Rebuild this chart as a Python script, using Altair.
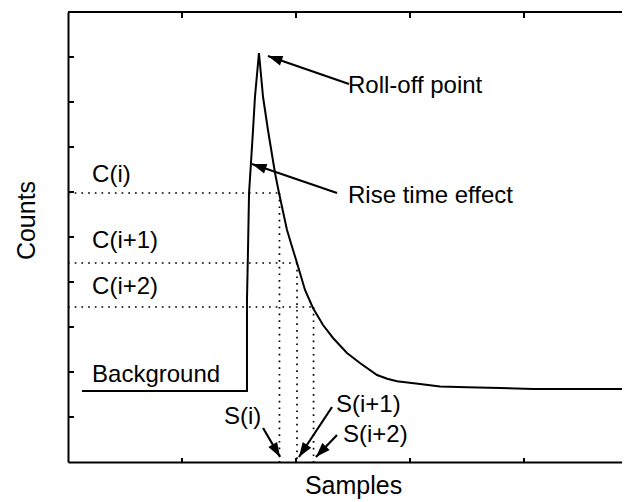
import math
import altair as alt
import pandas as pd

# ---------------- data ----------------
# plot scale: x in "sample" units, y in "count" units
curve_x = [0.123, 1.570, 1.570, 1.579, 1.588, 1.605, 1.623, 1.640, 1.675,
           1.711, 1.754, 1.816, 1.851, 1.921, 1.974, 2.009, 2.079, 2.149,
           2.237, 2.325, 2.447, 2.561, 2.711, 2.800, 2.886, 3.088, 3.263,
           3.500, 3.789, 4.079, 4.491, 4.930]
curve_y = [1.578, 1.578, 3.600, 4.711, 5.978, 6.644, 7.378, 8.111, 9.089,
           8.111, 7.378, 6.422, 5.978, 5.156, 4.711, 4.422, 3.822, 3.422,
           3.044, 2.756, 2.422, 2.200, 1.933, 1.850, 1.795, 1.733, 1.680,
           1.660, 1.644, 1.622, 1.622, 1.622]

sample_x = [1.855, 2.009, 2.154]      # S(i), S(i+1), S(i+2)
count_y = [5.978, 4.422, 3.444]       # C(i), C(i+1), C(i+2)

label_text = ["C(i)", "C(i+1)", "C(i+2)", "Background", "S(i)",
              "S(i+1)", "S(i+2)", "Roll-off point", "Rise time effect"]
label_x = [0.211, 0.211, 0.211, 0.211, 1.368, 2.351, 2.412, 2.456, 2.456]
label_y = [6.222, 4.756, 3.733, 1.778, 0.844, 1.111, 0.444, 8.200, 5.756]

arrow_tail_x = [2.465, 2.360, 1.711, 2.316, 2.360]
arrow_tail_y = [8.400, 5.978, 0.756, 1.222, 0.600]
arrow_tip_x = [1.754, 1.614, 1.860, 2.026, 2.175]
arrow_tip_y = [9.022, 6.622, 0.111, 0.111, 0.111]

x_ticks = [1, 2, 3, 4]
y_ticks = [1, 2, 3, 4, 5, 6, 7, 8, 9]

# ---------------- layout ----------------
W, H = 554, 450
PX_X, PX_Y = 114.0, 45.0
XMAX = W / PX_X
FONT = "Liberation Sans"

xs = alt.Scale(domain=[0, XMAX], nice=False, zero=False)
ys = alt.Scale(domain=[0, 10], nice=False, zero=False)

curve_df = pd.DataFrame({"x": curve_x, "y": curve_y, "i": range(len(curve_x))})
guide_df = pd.DataFrame({"sx": sample_x, "cy": count_y, "x0": [0.0] * 3, "y0": [0.0] * 3})
label_df = pd.DataFrame({"t": label_text, "x": label_x, "y": label_y})

angles = []
for tx, ty, hx, hy in zip(arrow_tail_x, arrow_tail_y, arrow_tip_x, arrow_tip_y):
    dx = (hx - tx) * PX_X
    dy = -(hy - ty) * PX_Y
    angles.append(math.degrees(math.atan2(dx, -dy)) % 360)
arrow_df = pd.DataFrame({"x": arrow_tail_x, "y": arrow_tail_y,
                         "x2": arrow_tip_x, "y2": arrow_tip_y, "ang": angles})
xt_df = pd.DataFrame({"x": x_ticks})
yt_df = pd.DataFrame({"y": y_ticks})

base_x_axis = alt.Axis(title="Samples", labels=False, ticks=False, grid=False,
                       domainColor="black", domainWidth=2,
                       titleFont=FONT, titleFontSize=25, titleFontWeight="normal",
                       titleColor="black", titleX=285, titleY=31,
                       titleAlign="center", titleBaseline="alphabetic")
base_y_axis = alt.Axis(title="Counts", labels=False, ticks=False, grid=False,
                       domainColor="black", domainWidth=2,
                       titleFont=FONT, titleFontSize=25, titleFontWeight="normal",
                       titleColor="black", titleX=-34, titleY=208, titleAngle=270,
                       titleAlign="center", titleBaseline="alphabetic")

curve = alt.Chart(curve_df).mark_line(color="black", strokeWidth=2, clip=True).encode(
    x=alt.X("x:Q", scale=xs, axis=base_x_axis),
    y=alt.Y("y:Q", scale=ys, axis=base_y_axis),
    order="i:Q",
)

h_guides = alt.Chart(guide_df).mark_rule(color="black", strokeWidth=1.7, strokeDash=[1.7, 5]).encode(
    x=alt.X("x0:Q", scale=xs), x2="sx:Q", y=alt.Y("cy:Q", scale=ys))
v_guides = alt.Chart(guide_df).mark_rule(color="black", strokeWidth=1.7, strokeDash=[1.7, 5]).encode(
    x=alt.X("sx:Q", scale=xs), y=alt.Y("cy:Q", scale=ys), y2="y0:Q")

arrows = alt.Chart(arrow_df).mark_rule(color="black", strokeWidth=2.2).encode(
    x=alt.X("x:Q", scale=xs), y=alt.Y("y:Q", scale=ys), x2="x2:Q", y2="y2:Q")
heads = alt.Chart(arrow_df).mark_point(
    shape="M0,0L-0.7,2L0.7,2Z", filled=True, color="black", opacity=1, size=210
).encode(
    x=alt.X("x2:Q", scale=xs), y=alt.Y("y2:Q", scale=ys),
    angle=alt.Angle("ang:Q", scale=None))

labels = alt.Chart(label_df).mark_text(
    font=FONT, fontSize=24, color="black", align="left", baseline="alphabetic"
).encode(x=alt.X("x:Q", scale=xs), y=alt.Y("y:Q", scale=ys), text="t:N")

top_line = alt.Chart(xt_df).mark_rule(color="black", strokeWidth=2).encode(
    x=alt.value(0), x2=alt.value(W), y=alt.value(0))
top_ticks = alt.Chart(xt_df).mark_rule(color="black", strokeWidth=2).encode(
    x=alt.X("x:Q", scale=xs), y=alt.value(0), y2=alt.value(6))
bottom_ticks = alt.Chart(xt_df).mark_rule(color="black", strokeWidth=2).encode(
    x=alt.X("x:Q", scale=xs), y=alt.value(H), y2=alt.value(H - 4))
left_ticks = alt.Chart(yt_df).mark_rule(color="black", strokeWidth=2).encode(
    y=alt.Y("y:Q", scale=ys), x=alt.value(0), x2=alt.value(6))

chart = alt.layer(
    h_guides, v_guides, curve, arrows, heads, labels,
    top_line, top_ticks, bottom_ticks, left_ticks,
).properties(
    width=W, height=H,
    autosize=alt.AutoSizeParams(type="none"),
    padding={"left": 60, "top": 4, "right": 0, "bottom": 38},
    background="white",
).configure_view(stroke=None)

chart.save("out.html", embed_options={"renderer": "svg", "actions": False})
